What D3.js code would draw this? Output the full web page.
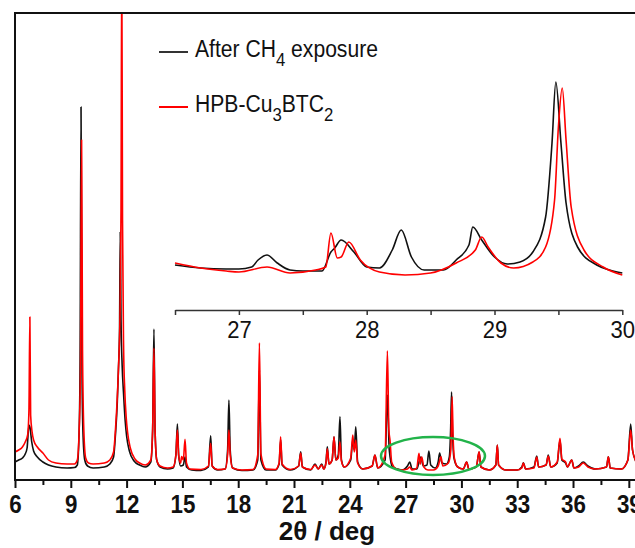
<!DOCTYPE html>
<html><head><meta charset="utf-8">
<script src="https://cdn.jsdelivr.net/npm/d3@7"></script>
<style>
html,body{margin:0;padding:0;background:#fff;overflow:hidden}
text{font-family:"Liberation Sans",Arial,Helvetica,sans-serif}
</style></head>
<body>
<svg id="chart" width="635" height="548"></svg>
<script>
// ---------- DATA ----------
// main pattern: [2θ (deg), intensity (a.u.)]
const afterCH4 = [[6.0,180],[6.2,200],[6.4,220],[6.55,260],[6.65,320],[6.75,550],[6.8,530],[6.9,380],[7.0,290],[7.2,230],[7.5,180],[7.8,150],[8.2,130],[8.8,120],[9.2,125],[9.35,150],
[9.45,500],[9.5,1200],[9.55,3730],[9.6,1200],[9.65,500],[9.75,200],[9.9,140],[10.2,120],[10.8,130],[11.1,160],[11.3,230],
[11.4,450],[11.5,780],[11.56,1100],[11.62,1500],[11.66,2480],[11.7,1600],[11.76,1150],[11.84,850],[11.92,600],[12.0,440],[12.15,290],[12.4,190],[12.7,150],[13.0,130],[13.3,180],[13.4,500],[13.47,1510],[13.53,500],[13.62,200],[13.8,130],[14.2,110],[14.5,120],
[14.65,250],[14.73,560],[14.8,250],[14.9,140],[15.05,150],[15.14,230],[15.22,130],[15.5,100],[16.0,95],[16.4,130],[16.52,443],[16.6,140],[16.9,100],[17.3,110],[17.43,300],[17.5,800],[17.57,300],[17.7,120],[18.2,95],[18.8,100],[19.05,200],[19.14,1100],[19.22,200],[19.5,100],[20.0,100],[20.2,160],[20.28,400],[20.36,150],[20.8,100],[21.25,140],[21.36,283],[21.45,130],[21.9,100],[22.13,160],[22.3,110],[22.49,160],[22.6,110],[22.72,180],[22.79,333],[22.88,160],[23.05,200],[23.15,433],[23.25,200],[23.38,250],[23.47,633],[23.55,200],[23.7,130],[24.05,200],[24.16,400],[24.24,300],[24.32,533],[24.42,180],[24.7,110],[25.2,140],[25.35,250],[25.5,120],[25.9,200],[26.02,850],[26.12,300],[26.3,130],[26.8,100],
[27.1,140],[27.22,180],[27.35,110],[27.6,110],[27.75,200],[27.82,230],[27.95,140],[28.15,150],[28.25,290],[28.35,150],[28.6,120],[28.75,180],[28.83,270],[28.95,170],[29.2,160],[29.35,230],[29.42,500],[29.47,880],[29.52,500],[29.6,220],[29.8,130],[30.1,110],[30.28,180],[30.4,110],[30.8,130],[30.95,280],[31.05,130],[31.5,100],[31.85,150],[31.93,350],[32.0,150],[32.4,100],[33.0,100],[33.25,130],[33.33,173],[33.45,110],[33.9,130],[34.05,240],[34.15,130],[34.55,150],[34.67,250],[34.8,130],[35.15,170],[35.3,400],[35.4,200],[35.6,170],[35.7,130],[35.93,200],[36.05,120],[36.3,140],[36.55,180],[36.8,140],[37.2,110],[37.8,130],[37.9,233],[38.0,120],[38.6,110],[38.95,200],[39.1,560],[39.2,300],[39.4,180]];

const hpbCu3BTC2 = [[6.0,280],[6.2,300],[6.4,330],[6.55,380],[6.68,450],[6.75,700],[6.8,1630],[6.84,650],[6.92,480],[7.0,400],[7.2,330],[7.5,270],[7.8,200],[8.2,170],[8.8,160],[9.2,160],[9.35,200],[9.45,500],[9.52,1100],[9.58,3400],[9.63,1300],[9.7,500],[9.8,220],[9.95,170],[10.2,160],[10.8,170],[11.1,200],[11.3,280],[11.4,500],[11.5,830],[11.57,1150],[11.65,1700],[11.7,2700],[11.74,5200],[11.78,2600],[11.84,1300],[11.9,900],[11.98,620],[12.05,480],[12.2,320],[12.45,210],[12.7,170],[13.0,150],[13.3,200],[13.4,500],[13.47,1320],[13.53,500],[13.62,200],[13.8,140],[14.2,120],[14.5,130],[14.65,250],[14.73,500],[14.8,240],[14.9,170],[14.96,234],[15.05,200],[15.14,408],[15.22,170],[15.4,110],[16.0,105],[16.4,140],[16.52,367],[16.6,140],[16.9,105],[17.3,110],[17.43,250],[17.5,500],[17.57,250],[17.7,120],[18.2,100],[18.8,105],[19.05,250],[19.14,1373],[19.22,260],[19.5,110],[20.0,105],[20.2,170],[20.28,433],[20.36,160],[20.8,105],[21.25,140],[21.36,270],[21.45,130],[21.9,105],[22.13,150],[22.3,110],[22.49,150],[22.6,110],[22.72,170],[22.79,313],[22.88,160],[23.05,200],[23.15,433],[23.25,200],[23.38,220],[23.47,383],[23.55,190],[23.7,130],[24.05,220],[24.16,450],[24.24,280],[24.32,400],[24.42,170],[24.7,110],[25.2,140],[25.35,250],[25.5,120],[25.9,250],[26.02,1293],[26.1,500],[26.16,400],[26.25,180],[26.5,110],[26.8,100],[27.1,110],[27.22,130],[27.35,100],[27.6,120],[27.72,267],[27.78,160],[27.87,230],[27.98,130],[28.2,100],[28.5,100],[28.75,140],[28.9,233],[29.0,140],[29.3,170],[29.43,300],[29.5,833],[29.55,450],[29.62,220],[29.8,130],[30.1,110],[30.28,180],[30.4,110],[30.8,130],[30.95,283],[31.05,130],[31.5,100],[31.85,150],[31.93,350],[32.0,150],[32.4,100],[33.0,100],[33.25,120],[33.33,170],[33.45,110],[33.9,120],[34.05,230],[34.15,130],[34.55,150],[34.67,240],[34.8,130],[35.15,180],[35.3,417],[35.4,210],[35.6,180],[35.7,130],[35.93,200],[36.05,120],[36.3,130],[36.55,170],[36.8,130],[37.2,110],[37.8,130],[37.9,233],[38.0,120],[38.6,110],[38.95,200],[39.1,500],[39.2,300],[39.4,180]];

// inset (26.5–30°) zoom: [2θ, intensity (a.u.)]
const insetAfterCH4 = [[26.5,45],[26.7,42],[26.9,41],[27.0,41],[27.1,43],[27.15,50],[27.22,55],[27.3,47],[27.4,40],[27.5,39],[27.65,39],[27.72,58],[27.75,62],[27.8,70],[27.9,58],[28.0,43],[28.1,42],[28.2,60],[28.27,80],[28.35,53],[28.45,40],[28.6,40],[28.7,50],[28.8,65],[28.83,83],[28.9,70],[29.0,53],[29.1,46],[29.2,48],[29.3,58],[29.4,93],[29.45,167],[29.48,228],[29.52,167],[29.56,107],[29.65,63],[29.8,45],[29.9,40],[30.0,37]];
const insetHpb = [[26.5,47],[26.7,42],[26.9,39],[27.0,38],[27.22,43],[27.4,37],[27.6,40],[27.68,43],[27.72,77],[27.77,52],[27.8,53],[27.86,68],[27.95,50],[28.1,38],[28.3,35],[28.5,37],[28.7,47],[28.85,60],[28.9,73],[28.95,63],[29.05,47],[29.15,42],[29.3,48],[29.4,63],[29.47,110],[29.5,183],[29.53,222],[29.56,170],[29.6,103],[29.7,60],[29.85,43],[30.0,35]];

const mainTicks = [6,7.5,9,10.5,12,13.5,15,16.5,18,19.5,21,22.5,24,25.5,27,28.5,30,31.5,33,34.5,36,37.5,39];
const mainTickLabels = [6,9,12,15,18,21,24,27,30,33,36,39];
const insetTicks = [26.5,27,27.5,28,28.5,29,29.5,30];
const insetTickLabels = [27,28,29,30];
const seriesNames = ["After CH", "HPB-Cu"];

// ---------- DRAW ----------
const svg = d3.select("#chart");
const x = d3.scaleLinear().domain([6, 39.3]).range([15, 634.4]);
const y = d3.scaleLinear().domain([0, 4670]).range([480, 13]);

svg.append("clipPath").attr("id","plotclip").append("rect")
  .attr("x",15).attr("y",13).attr("width",620).attr("height",467);

const line = d3.line().x(d=>x(d[0])).y(d=>y(d[1])).curve(d3.curveMonotoneX);
const gPlot = svg.append("g").attr("clip-path","url(#plotclip)");
gPlot.append("path").datum(afterCH4).attr("d",line)
  .attr("fill","none").attr("stroke","#111").attr("stroke-width",1.6).attr("stroke-linejoin","round");
gPlot.append("path").datum(hpbCu3BTC2).attr("d",line)
  .attr("fill","none").attr("stroke","#ff0000").attr("stroke-width",1.6).attr("stroke-linejoin","round");

// frame: top and left
svg.append("line").attr("x1",15).attr("x2",635).attr("y1",13).attr("y2",13).attr("stroke","#111").attr("stroke-width",2);
svg.append("line").attr("x1",15).attr("x2",15).attr("y1",12).attr("y2",481).attr("stroke","#111").attr("stroke-width",2);

// bottom axis
const xAxis = d3.axisBottom(x).tickValues(mainTicks).tickSizeOuter(0)
  .tickFormat(d => mainTickLabels.includes(d) ? d3.format("d")(d) : "");
const gx = svg.append("g").attr("transform","translate(0,480)").call(xAxis);
gx.select(".domain").attr("d","M15,0H635").attr("stroke","#111").attr("stroke-width",2);
gx.selectAll(".tick line").attr("stroke","#111").attr("stroke-width",2)
  .attr("y2", d => mainTickLabels.includes(d) ? 8 : 5);
gx.selectAll(".tick text").attr("y",33).attr("dy",0)
  .attr("font-size",26).attr("font-weight","bold").attr("fill","#111")
  .attr("font-family",'"Liberation Sans",Arial,sans-serif')
  .attr("transform","scale(0.86,1)");

svg.append("text").attr("x",327).attr("y",540).attr("text-anchor","middle")
  .attr("font-size",26).attr("font-weight","bold").attr("fill","#111").text("2θ / deg");

// green ellipse highlighting the zoomed region
svg.append("ellipse").attr("cx",433).attr("cy",456).attr("rx",52).attr("ry",19)
  .attr("fill","none").attr("stroke","#22b34a").attr("stroke-width",2.5);

// ---------- INSET ----------
const xi = d3.scaleLinear().domain([26.5, 30]).range([175, 622.3]);
const yi = d3.scaleLinear().domain([0, 250]).range([310, 60]);
const lineI = d3.line().x(d=>xi(d[0])).y(d=>yi(d[1])).curve(d3.curveMonotoneX);
svg.append("path").datum(insetAfterCH4).attr("d",lineI)
  .attr("fill","none").attr("stroke","#111").attr("stroke-width",1.6);
svg.append("path").datum(insetHpb).attr("d",lineI)
  .attr("fill","none").attr("stroke","#ff0000").attr("stroke-width",1.6);

const xAxisI = d3.axisBottom(xi).tickValues(insetTicks).tickSizeOuter(0)
  .tickFormat(d => insetTickLabels.includes(d) ? d3.format("d")(d) : "");
const gxi = svg.append("g").attr("transform","translate(0,310)").call(xAxisI);
gxi.select(".domain").attr("stroke","#333").attr("stroke-width",1.5);
gxi.selectAll(".tick line").attr("stroke","#333").attr("stroke-width",1.5).attr("y2",5);
gxi.selectAll(".tick text").attr("y",28).attr("dy",0)
  .attr("font-size",24).attr("fill","#111")
  .attr("font-family",'"Liberation Sans",Arial,sans-serif')
  .attr("transform","scale(0.92,1)");

// ---------- LEGEND ----------
const legend = [
  {name: seriesNames[0], sub1: "4", rest: " exposure", sub2: "", color: "#333", ly: 52, ty: 57},
  {name: seriesNames[1], sub1: "3", rest: "BTC", sub2: "2", color: "#ff0000", ly: 107, ty: 112}
];
legend.forEach(l => {
  svg.append("line").attr("x1",159).attr("x2",188).attr("y1",l.ly).attr("y2",l.ly)
    .attr("stroke",l.color).attr("stroke-width",2);
  const t = svg.append("g").attr("transform",`translate(195,${l.ty}) scale(0.88,1)`)
    .append("text").attr("font-size",24).attr("fill","#111");
  t.append("tspan").text(l.name);
  t.append("tspan").attr("dy",9).attr("font-size",19).text(l.sub1);
  t.append("tspan").attr("dy",-9).text(l.rest);
  if (l.sub2) t.append("tspan").attr("dy",9).attr("font-size",19).text(l.sub2);
});
</script>
</body></html>
